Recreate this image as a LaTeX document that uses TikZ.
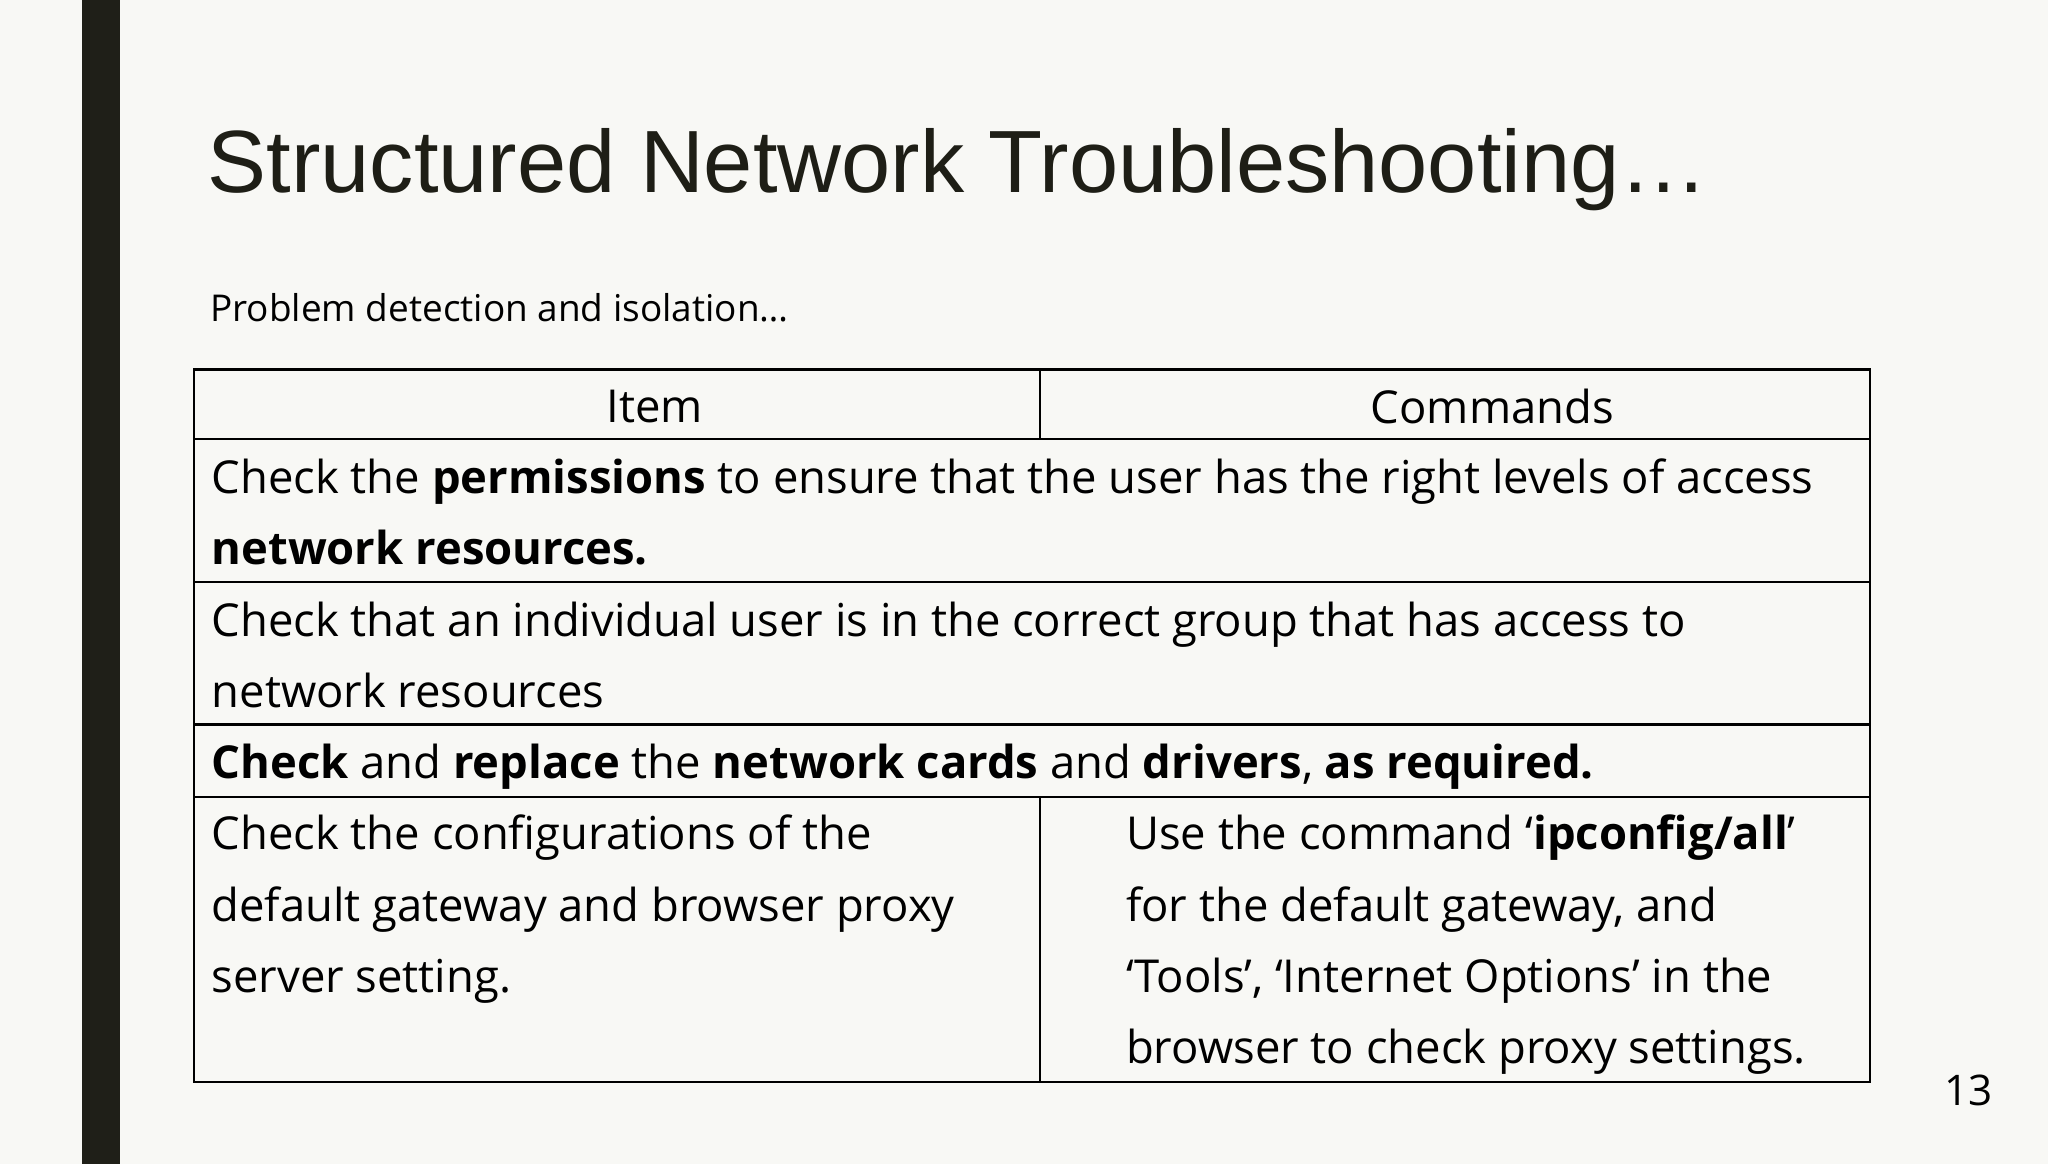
\documentclass[tikz,border=0pt]{standalone}
\usepackage{fontspec}
\setmainfont{Open Sans}
\newfontfamily\titlefont{Liberation Sans}
\begin{document}
\begin{tikzpicture}[x=0.5pt,y=-0.5pt,
  body/.style={anchor=base west,inner sep=0pt,font=\fontsize{17.2}{18}\selectfont},
  grid/.style={draw=black,line width=0.8pt}]
\useasboundingbox (0,0) rectangle (1552,882);
\fill[fill={rgb,255:red,248;green,248;blue,245}] (0,0) rectangle (1552,882);
\fill[fill={rgb,255:red,31;green,31;blue,24}] (62,0) rectangle (91,882);
\node[anchor=base west,inner sep=0pt,font=\titlefont\fontsize{33.5}{40}\selectfont,text={rgb,255:red,30;green,30;blue,22}] (title) at (157,146) {Structured Network Troubleshooting…};
\node[anchor=base west,inner sep=0pt,font=\fontsize{14}{16}\selectfont] (sub) at (159,244) {Problem detection and isolation…};
% table
\draw[grid] (147,280) rectangle (1417,820);
\draw[grid] (147,333) -- (1417,333);
\draw[grid] (147,441) -- (1417,441);
\draw[grid] (147,549) -- (1417,549);
\draw[grid] (147,604) -- (1417,604);
\draw[grid] (788,280) -- (788,333);
\draw[grid] (788,604) -- (788,820);
\node[font=\fontsize{17.2}{18}\selectfont] (h1) at (496,308) {Item};
\node[font=\fontsize{17.2}{18}\selectfont] (h2) at (1131,308) {Commands};
\node[body] (r1a) at (160,374) {Check the \textbf{permissions} to ensure that the user has the right levels of access};
\node[body] (r1b) at (160,428) {\textbf{network resources.}};
\node[body] (r2a) at (160,482) {Check that an individual user is in the correct group that has access to};
\node[body] (r2b) at (160,536) {network resources};
\node[body] (r3) at (160,590) {\textbf{Check} and \textbf{replace} the \textbf{network cards} and \textbf{drivers}, \textbf{as required.}};
\node[body] (r4a) at (160,644) {Check the configurations of the};
\node[body] (r4b) at (160,698) {default gateway and browser proxy};
\node[body] (r4c) at (160,752) {server setting.};
\node[body] (c4a) at (853,644) {Use the command ‘\textbf{ipconfig/all}’};
\node[body] (c4b) at (853,698) {for the default gateway, and};
\node[body] (c4c) at (853,752) {‘Tools’, ‘Internet Options’ in the};
\node[body] (c4d) at (853,806) {browser to check proxy settings.};
\node[font=\fontsize{16}{18}\selectfont] (pg) at (1492,826) {13};
\end{tikzpicture}
\end{document}
